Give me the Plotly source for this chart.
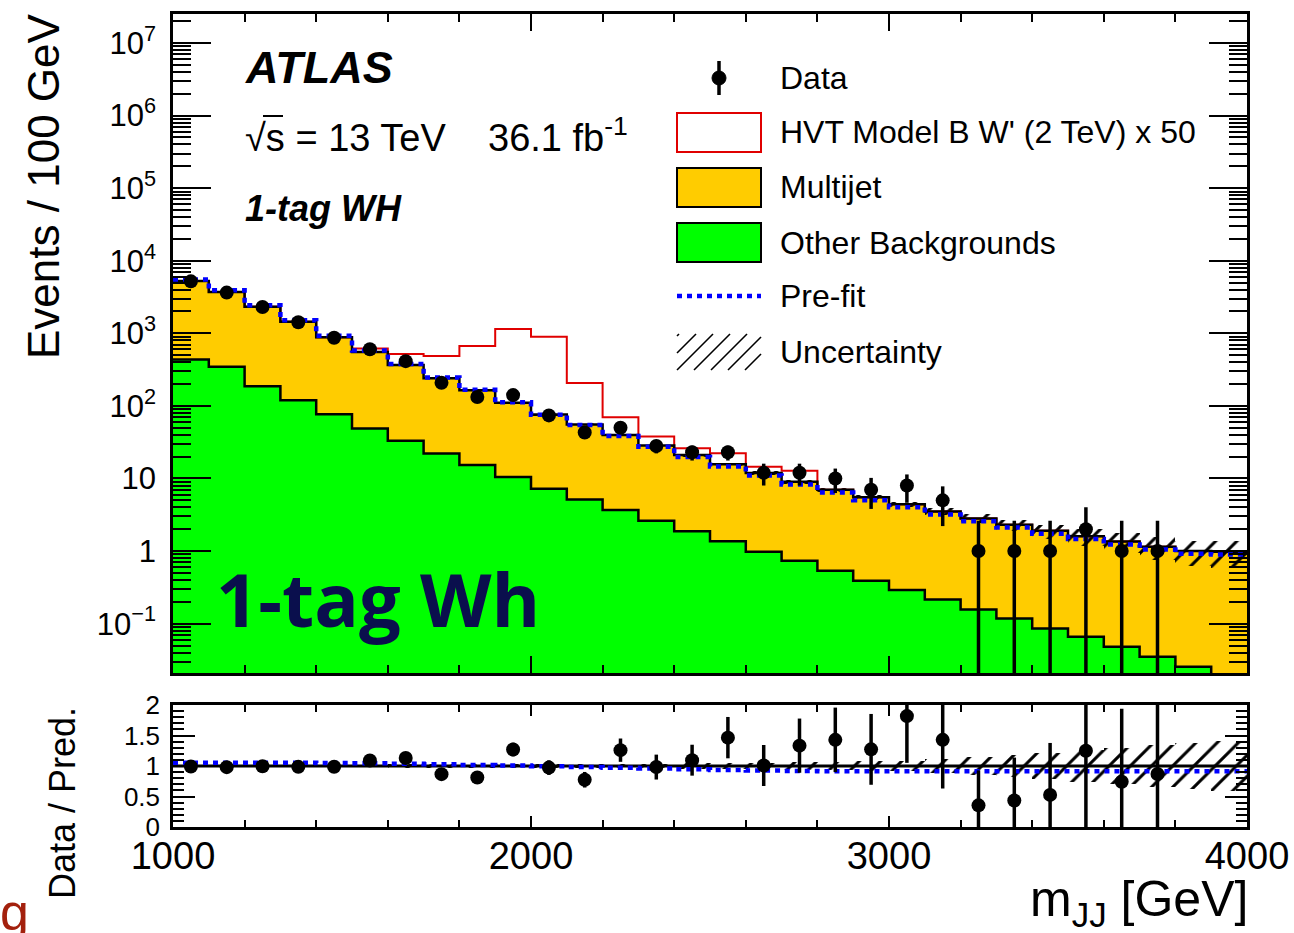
import numpy as np
import plotly.graph_objects as go

# ---- binning: m_JJ from 1000 to 4000 GeV in 100 GeV bins ----
edges = np.arange(1000, 4001, 100)
centers = edges[:-1] + 50

# ---- per-bin contents ----
data_counts = [5200, 3640, 2310, 1420, 870, 605, 414, 208, 133, 141,
               74, 43, 50, 28, 23, 23, 12, 12, 10, 7,
               8, 5, 1, 1, 1, 2, 1, 1, 0, 0]
total_bkg = [5250, 3710, 2320, 1440, 880, 555, 366, 240, 164, 111,
             76, 55.5, 39.7, 28.5, 21.0, 15.7, 11.9, 9.0, 7.0, 5.5,
             4.4, 3.5, 2.82, 2.3, 1.9, 1.6, 1.35, 1.15, 1.0, 0.98]
other_bkg = [437, 347, 187, 120, 77, 49, 33, 22.1, 15.3, 10.5,
             7.2, 5.15, 3.67, 2.62, 1.88, 1.37, 0.98, 0.735, 0.535, 0.39,
             0.29, 0.215, 0.157, 0.118, 0.086, 0.066, 0.048, 0.035, 0.0255, 0.016]
signal_x50 = [0, 0, 0, 0, 5, 64, 153, 246, 505, 1033,
              819, 152, 30, 9.5, 5.2, 6.5, 2.6, 3.8, 0, 0,
              0, 0, 0, 0, 0, 0, 0, 0, 0, 0]
prefit_over_postfit = [1.055, 1.055, 1.055, 1.055, 1.05, 1.045, 1.035, 1.03, 1.015, 1.01,
                       0.995, 0.985, 0.97, 0.96, 0.945, 0.935, 0.925, 0.92, 0.915, 0.915,
                       0.915, 0.915, 0.915, 0.915, 0.915, 0.915, 0.915, 0.915, 0.915, 0.915]
rel_uncertainty = [0.02, 0.02, 0.02, 0.02, 0.02, 0.02, 0.025, 0.025, 0.03, 0.03,
                   0.03, 0.035, 0.04, 0.04, 0.045, 0.05, 0.055, 0.06, 0.07, 0.08,
                   0.09, 0.11, 0.14, 0.18, 0.22, 0.26, 0.30, 0.34, 0.38, 0.41]

y_tick_vals = [1e-1, 1, 10, 1e2, 1e3, 1e4, 1e5, 1e6, 1e7]
y_tick_text = ["10<sup>\u22121</sup>", "1", "10", "10<sup>2</sup>", "10<sup>3</sup>",
               "10<sup>4</sup>", "10<sup>5</sup>", "10<sup>6</sup>", "10<sup>7</sup>"]
x_tick_vals = [1000, 2000, 3000, 4000]
x_tick_text = ["1000", "2000", "3000", "4000"]
ratio_tick_vals = [0, 0.5, 1, 1.5, 2]
ratio_tick_text = ["0", "0.5", "1", "1.5", "2"]

# ---- derived arrays ----
data = np.array(data_counts, float)
bkg = np.array(total_bkg, float)
oth = np.array(other_bkg, float)
sig = np.array(signal_x50, float)
pre = np.array(prefit_over_postfit, float)
unc = np.array(rel_uncertainty, float)
stat_err = 0.5 + np.sqrt(data + 0.25)
has_data = data > 0

W, H = 1294, 933
def fx(p):
    return p / W
def fy(p):
    return 1 - p / H

FONT = "Liberation Sans, Arial, Helvetica, sans-serif"
YELLOW = "#ffcc00"
GREEN = "#00ff00"
RED = "#e00000"
BLUE = "#0000ff"


def step_xy(vals):
    return list(edges), list(vals) + [vals[-1]]


def error_segments(xs, lo, hi):
    sx, sy = [], []
    for x, a, b in zip(xs, lo, hi):
        sx += [x, x, None]
        sy += [a, b, None]
    return sx, sy


fig = go.Figure()

# ---------------- main panel ----------------
fig.add_trace(go.Bar(x=centers, y=bkg, width=100, marker=dict(color=YELLOW, line=dict(width=0)),
                     xaxis="x", yaxis="y", showlegend=False))
fig.add_trace(go.Bar(x=centers, y=oth, width=100, marker=dict(color=GREEN, line=dict(width=0)),
                     xaxis="x", yaxis="y", showlegend=False))

sx, sy = step_xy(bkg + sig)
fig.add_trace(go.Scatter(x=sx, y=sy, mode="lines", line=dict(shape="hv", color=RED, width=2),
                         xaxis="x", yaxis="y", showlegend=False))
sx, sy = step_xy(oth)
fig.add_trace(go.Scatter(x=sx, y=sy, mode="lines", line=dict(shape="hv", color="black", width=2.5),
                         xaxis="x", yaxis="y", showlegend=False))
sx, sy = step_xy(bkg)
fig.add_trace(go.Scatter(x=sx, y=sy, mode="lines", line=dict(shape="hv", color="black", width=2.5),
                         xaxis="x", yaxis="y", showlegend=False))

hatch = dict(shape="/", fgcolor="black", bgcolor="rgba(0,0,0,0)", size=15, solidity=0.2, fgopacity=1)
fig.add_trace(go.Bar(x=centers, y=2 * unc * bkg, base=bkg * (1 - unc), width=100, opacity=1,
                     marker=dict(color="rgba(0,0,0,0)", line=dict(width=0), pattern=hatch),
                     xaxis="x", yaxis="y", showlegend=False))

sx, sy = step_xy(bkg * pre)
fig.add_trace(go.Scatter(x=sx, y=sy, mode="lines",
                         line=dict(shape="hv", color=BLUE, width=4.5, dash="5px,5px"),
                         xaxis="x", yaxis="y", showlegend=False))

lo = np.where(data - stat_err > 0, data - stat_err, 1e-3)
hi = data + stat_err
ex, ey = error_segments(centers[has_data], lo[has_data], hi[has_data])
fig.add_trace(go.Scatter(x=ex, y=ey, mode="lines", line=dict(color="black", width=3.5),
                         xaxis="x", yaxis="y", showlegend=False))
fig.add_trace(go.Scatter(x=centers[has_data], y=data[has_data], mode="markers",
                         marker=dict(color="black", size=14, symbol="circle"),
                         xaxis="x", yaxis="y", showlegend=False))

# ---------------- ratio panel ----------------
fig.add_trace(go.Bar(x=centers, y=2 * unc, base=1 - unc, width=100, opacity=1,
                     marker=dict(color="rgba(0,0,0,0)", line=dict(width=0), pattern=hatch),
                     xaxis="x2", yaxis="y2", showlegend=False))
fig.add_trace(go.Scatter(x=[edges[0], edges[-1]], y=[1, 1], mode="lines",
                         line=dict(color="black", width=3), xaxis="x2", yaxis="y2", showlegend=False))
sx, sy = step_xy(pre)
fig.add_trace(go.Scatter(x=sx, y=sy, mode="lines",
                         line=dict(shape="hv", color=BLUE, width=4.5, dash="5px,5px"),
                         xaxis="x2", yaxis="y2", showlegend=False))
ratio = data / bkg
r_err = stat_err / bkg
ex, ey = error_segments(centers[has_data], (ratio - r_err)[has_data], (ratio + r_err)[has_data])
fig.add_trace(go.Scatter(x=ex, y=ey, mode="lines", line=dict(color="black", width=3.5),
                         xaxis="x2", yaxis="y2", showlegend=False))
fig.add_trace(go.Scatter(x=centers[has_data], y=ratio[has_data], mode="markers",
                         marker=dict(color="black", size=14, symbol="circle"),
                         xaxis="x2", yaxis="y2", showlegend=False))

# ---------------- axes ----------------
y_minor = [k * 10.0 ** n for n in range(-2, 8) for k in range(2, 10)]
x_minor = list(range(1000, 4001, 200))

frame = dict(showline=True, linewidth=2.5, linecolor="black", mirror="allticks", automargin=False,
             showgrid=False, zeroline=False, ticks="inside", tickcolor="black", tickwidth=2)
x_dom = [fx(173), fx(1247)]

fig.update_layout(
    width=W, height=H, margin=dict(l=0, r=0, t=0, b=0, pad=0), autosize=False,
    paper_bgcolor="white", plot_bgcolor="white",
    barmode="overlay", bargap=0, showlegend=False,
    xaxis=dict(frame, domain=x_dom, range=[1000, 4000], anchor="y",
               tickvals=x_tick_vals, ticklen=17, showticklabels=False,
               minor=dict(tickvals=x_minor, ticklen=8, ticks="inside", tickcolor="black", tickwidth=2)),
    yaxis=dict(frame, type="log", domain=[fy(673), fy(14)], range=[-1.68, 7.40], anchor="x",
               tickvals=y_tick_vals, ticktext=y_tick_text, ticklen=38,
               tickfont=dict(family=FONT, size=31, color="black"), ticklabelstandoff=8,
               minor=dict(tickvals=y_minor, ticklen=18, ticks="inside", tickcolor="black", tickwidth=2)),
    xaxis2=dict(frame, domain=x_dom, range=[1000, 4000], anchor="y2",
                tickvals=x_tick_vals, ticktext=x_tick_text, ticklen=11,
                tickfont=dict(family=FONT, size=38, color="black"), ticklabelstandoff=-6,
                minor=dict(tickvals=x_minor, ticklen=7, ticks="inside", tickcolor="black", tickwidth=2)),
    yaxis2=dict(frame, domain=[fy(827), fy(705)], range=[0, 2.0], anchor="x2",
                tickvals=ratio_tick_vals, ticktext=ratio_tick_text, ticklen=22,
                tickfont=dict(family=FONT, size=26, color="black"), ticklabelstandoff=5,
                minor=dict(dtick=0.1, ticklen=11, ticks="inside", tickcolor="black", tickwidth=2)),
)

# ---------------- text ----------------
ann = []
def text(x, y, s, size, xanchor="left", yanchor="middle", color="black", family=FONT, angle=0):
    ann.append(dict(x=fx(x), y=fy(y), xref="paper", yref="paper", text=s, showarrow=False,
                    xanchor=xanchor, yanchor=yanchor, textangle=angle,
                    font=dict(family=family, size=size, color=color)))

text(243, 68, "<b><i>ATLAS</i></b>", 45)
text(243, 135, "\u221as = 13 TeV    36.1 fb<sup>-1</sup>", 38)
text(243, 208, "<b><i>1-tag WH</i></b>", 36)
text(214, 598, "<b>1-tag Wh</b>", 74, color="#0a0f4d", family="Open Sans, sans-serif")
text(43, 186, "Events / 100 GeV", 44, xanchor="center", angle=-90)
text(62, 803, "Data / Pred.", 36, xanchor="center", angle=-90)
text(1250, 902, "m<sub>JJ</sub> [GeV]", 50, xanchor="right")
text(14, 912, "g", 52, xanchor="center", color="#a3200d")

# legend
leg_x0, leg_x1, leg_tx = 677, 761, 778
rows = [78, 132, 187, 243, 296, 352]
labels = ["Data", "HVT Model B W' (2 TeV) x 50", "Multijet", "Other Backgrounds", "Pre-fit", "Uncertainty"]
for yy, lab in zip(rows, labels):
    text(leg_tx, yy, lab, 32)

shapes = []
def rect(x0, y0, x1, y1, fill, line_color, lw):
    shapes.append(dict(type="rect", xref="paper", yref="paper", x0=fx(x0), x1=fx(x1), y0=fy(y1), y1=fy(y0),
                       fillcolor=fill, line=dict(color=line_color, width=lw)))
def seg(x0, y0, x1, y1, color="black", lw=2, dash="solid"):
    shapes.append(dict(type="line", xref="paper", yref="paper", x0=fx(x0), x1=fx(x1), y0=fy(y0), y1=fy(y1),
                       line=dict(color=color, width=lw, dash=dash)))

# data symbol
seg(719, 61, 719, 95, lw=3.5)
shapes.append(dict(type="circle", xref="paper", yref="paper", x0=fx(712), x1=fx(726), y0=fy(85), y1=fy(71),
                   fillcolor="black", line=dict(color="black", width=1)))
rect(leg_x0, 113, leg_x1, 152, "white", RED, 2)
rect(leg_x0, 168, leg_x1, 207, YELLOW, "black", 2)
rect(leg_x0, 223, leg_x1, 262, GREEN, "black", 2)
seg(leg_x0, 296, leg_x1, 296, color=BLUE, lw=4.5, dash="5px,5px")

# hatched legend box: 45-degree lines clipped to the box
hb_x0, hb_x1, hb_top, hb_bot = 677, 761, 334, 370
for k in range(-2, 6):
    xa, ya = hb_x0 + k * 17, hb_bot
    xb, yb = xa + (hb_bot - hb_top), hb_top
    if xa < hb_x0:
        ya -= hb_x0 - xa
        xa = hb_x0
    if xb > hb_x1:
        yb += xb - hb_x1
        xb = hb_x1
    if xb > xa:
        seg(xa, ya, xb, yb, lw=1.6)

# radical overbar over "s"
seg(263, 116, 283, 116, lw=2)

fig.update_layout(annotations=ann, shapes=shapes)
fig.write_html("out.html")
